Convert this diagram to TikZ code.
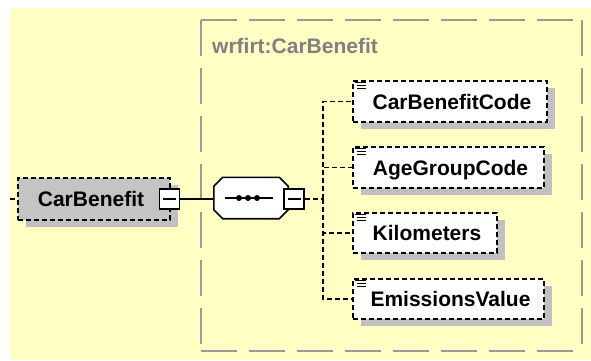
\documentclass[tikz,border=0pt]{standalone}
\usepackage{fontspec}
\setmainfont{Liberation Sans}
\usetikzlibrary{shadows}
\definecolor{bgyellow}{HTML}{FFFFC4}
\definecolor{shadowgray}{HTML}{C0C0C0}
\definecolor{rootgray}{HTML}{C4C4C4}
\definecolor{framegray}{HTML}{9A9A9A}
\definecolor{titlegray}{HTML}{808080}
\tikzset{
  boxfont/.style={font=\fontsize{21}{24}\selectfont\bfseries, text height=15pt, text depth=0pt},
  withshadow/.style={general shadow={fill=shadowgray, shadow xshift=8pt, shadow yshift=-7pt}},
  elem/.style={boxfont, draw=black, line width=1.8pt, dash pattern=on 5pt off 3pt, fill=white,
    minimum height=41pt, inner sep=0pt, withshadow},
  rootelem/.style={elem, fill=rootgray, minimum height=42pt},
  minusbox/.style={draw=black, fill=white, line width=1.6pt, minimum size=20pt, inner sep=0pt,
    path picture={\draw[line width=1.4pt] ([xshift=3.5pt]path picture bounding box.west) -- ([xshift=-3.5pt]path picture bounding box.east);}},
  seqarea/.style={minimum width=74pt, minimum height=41pt, inner sep=0pt},
  seqline/.style={draw=black, line width=1.6pt, fill=white, line join=miter},
  frameline/.style={draw=framegray, line width=1.8pt, dash pattern=on 36pt off 12pt},
  titletext/.style={font=\fontsize{21}{24}\selectfont\bfseries, text=titlegray, inner sep=0pt},
  dconn/.style={draw=black, line width=1.6pt, dash pattern=on 5pt off 3pt},
  sconn/.style={draw=black, line width=1.6pt},
  iconline/.style={draw=black, line width=1pt}
}
\begin{document}
\begin{tikzpicture}[x=1pt,y=-1pt]
\useasboundingbox (0,0) rectangle (591,361);
\fill[bgyellow] (10,8) rectangle (591,360);
% group frame
\node[minimum width=381pt, minimum height=331pt, inner sep=0pt] (grp) at (391.5,185.5) {};
\draw[frameline] (grp.north west) -- (grp.north east);
\draw[frameline] (grp.north west) -- (grp.south west);
\draw[frameline] (grp.north east) -- (grp.south east);
\draw[frameline] (grp.south west) -- (grp.south east);
\node[titletext, anchor=base west] (ttl) at (212,53) {wrfirt:CarBenefit};
% root element
\coordinate (lstub) at (10,199);
\node[rootelem, minimum width=152pt] (cb) at (94,199) {CarBenefit\hspace*{6pt}};
\draw[dconn] (lstub) -- (cb.west);
\node[minusbox] (m1) at (169.5,199) {};
% sequence (octagon)
\node[seqarea] (seq) at (251,198) {};
\fill[shadowgray, shift={(8,8)}]
  ([xshift=9pt]seq.north west) -- ([xshift=-9pt]seq.north east) -- ([yshift=-9pt]seq.north east)
  -- ([yshift=9pt]seq.south east) -- ([xshift=-9pt]seq.south east) -- ([xshift=9pt]seq.south west)
  -- ([yshift=9pt]seq.south west) -- ([yshift=-9pt]seq.north west) -- cycle;
\draw[seqline]
  ([xshift=9pt]seq.north west) -- ([xshift=-9pt]seq.north east) -- ([yshift=-9pt]seq.north east)
  -- ([yshift=9pt]seq.south east) -- ([xshift=-9pt]seq.south east) -- ([xshift=9pt]seq.south west)
  -- ([yshift=9pt]seq.south west) -- ([yshift=-9pt]seq.north west) -- cycle;
\draw[sconn] (m1.east) -- (m1.east -| seq.west);
\draw[line width=1.4pt] ([xshift=-26pt]seq.center) -- ([xshift=22pt]seq.center);
\fill ([xshift=-12pt]seq.center) circle (3pt);
\fill ([xshift=-3pt]seq.center) circle (3pt);
\fill ([xshift=6pt]seq.center) circle (3pt);
\node[minusbox] (m2) at (294,199) {};
% children
\node[elem, minimum width=194pt] (cbc) at (450,101.5) {\hspace*{4pt}CarBenefitCode};
\node[elem, minimum width=191pt] (agc) at (448.5,167.5) {\hspace*{4pt}AgeGroupCode};
\node[elem, minimum width=144pt, minimum height=40pt] (km) at (425,233) {\hspace*{4pt}Kilometers};
\node[elem, minimum width=191pt, minimum height=40pt] (ev) at (448.5,299) {\hspace*{4pt}EmissionsValue};
\foreach \n in {cbc,agc,km,ev}{
  \draw[iconline] ([shift={(2.5,2.5)}]\n.north west) -- ++(11,0)
                  ([shift={(4.5,5.5)}]\n.north west) -- ++(9,0)
                  ([shift={(4.5,8.5)}]\n.north west) -- ++(9,0);
}
% connectors
\coordinate (bus) at (323,199);
\draw[dconn] (m2.east) -- (bus);
\draw[dconn] (bus) |- (cbc.west);
\draw[dconn] (bus) |- (agc.west);
\draw[dconn] (bus) |- (km.west);
\draw[dconn] (bus) |- (ev.west);
\end{tikzpicture}
\end{document}
